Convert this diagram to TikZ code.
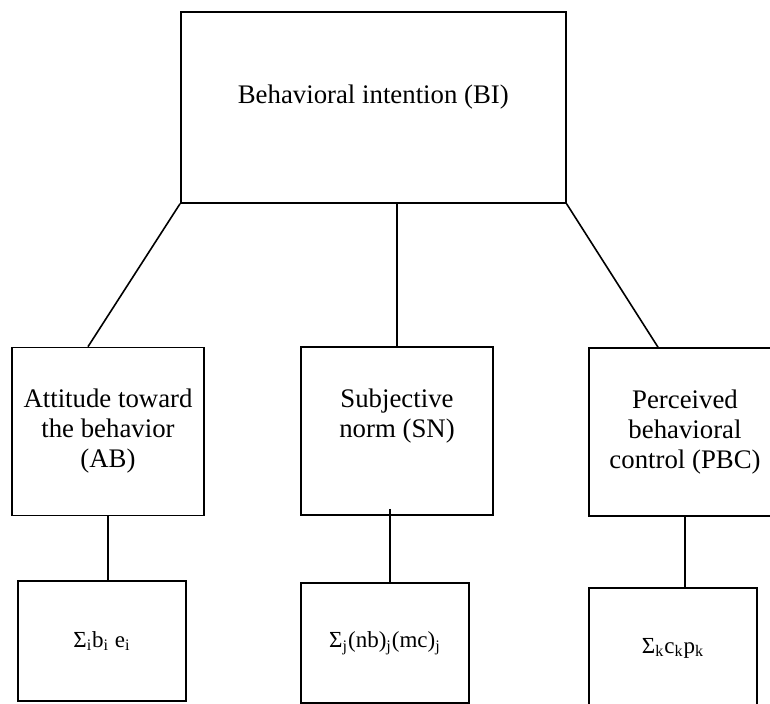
\documentclass[tikz,border=0pt]{standalone}
\usepackage{fontspec}
\setmainfont{Liberation Serif}
\begin{document}
\begin{tikzpicture}[x=0.5pt,y=-0.5pt,line cap=butt,line join=miter,line width=0.8pt,font=\fontsize{13.4}{15}\selectfont]
	\tikzset{box/.style={draw,align=center,inner sep=2pt,minimum width=96pt,minimum height=84pt},
		sumbox/.style={draw,inner sep=2pt,minimum width=84pt,minimum height=60pt,font=\fontsize{11.5}{13}\selectfont}}
	\useasboundingbox (0,0) rectangle (770,704);
	\clip (0,0) rectangle (770,704);
	\node[box,minimum width=192.5pt,minimum height=95.5pt] (bi) at (373.3,107.5) {Behavioral intention (BI)\\[-2pt]};
	\node[box] (ab) at (108,431.5) {Attitude toward\\the behavior\\(AB)};
	\node[box] (sn) at (397,431) {Subjective\\norm (SN)\\[3pt]};
	\node[box] (pbc) at (685,432) {Perceived\\behavioral\\control (PBC)};
	\node[sumbox] (sab) at (102,641) {Σ\textsubscript{i}b\textsubscript{i} e\textsubscript{i}};
	\node[sumbox] (ssn) at (385,643) {Σ\textsubscript{j}(nb)\textsubscript{j}(mc)\textsubscript{j}};
	\node[sumbox] (spbc) at (673,648) {Σ\textsubscript{k}c\textsubscript{k}p\textsubscript{k}};
	% upper links
	\draw (bi.south west)--([xshift=-10pt]ab.north);
	\draw (sn.north)--(sn.north |- bi.south);
	\draw (bi.south east)--([xshift=-13.5pt]pbc.north);
	% lower links
	\foreach \u/\v in {ab/sab,pbc/spbc}{
		\draw (\u.south)--(\u.south |- \v.north);}
	\draw ([xshift=-3.5pt,yshift=3.5pt]sn.south)--([xshift=-3.5pt]sn.south |- ssn.north);
\end{tikzpicture}
\end{document}
